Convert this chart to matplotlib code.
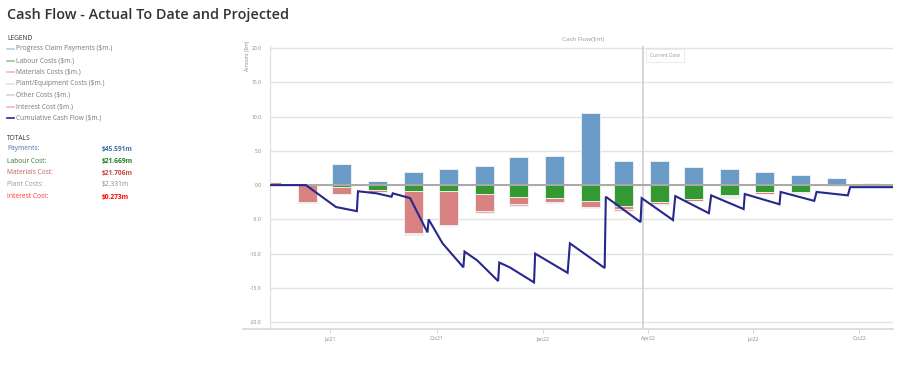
import numpy as np
import pandas as pd
import matplotlib
matplotlib.use("Agg")
import matplotlib.pyplot as plt
import matplotlib.dates as mdates
from matplotlib.lines import Line2D

plt.rcParams['font.family'] = ['Open Sans', 'DejaVu Sans']

# Monthly cash flow bars ($m)
bar_dates = ['2021-05-11', '2021-06-11', '2021-07-11', '2021-08-11', '2021-09-11', '2021-10-11',
             '2021-11-11', '2021-12-11', '2022-01-11', '2022-02-11', '2022-03-11', '2022-04-11',
             '2022-05-11', '2022-06-11', '2022-07-11', '2022-08-11', '2022-09-11', '2022-10-11']
payments = [0, 0, 3.1, 0.65, 1.95, 2.3, 2.85, 4.15, 4.2, 10.5, 3.45, 3.45, 2.7, 2.3, 1.85, 1.45, 1.1, 0]
labour = [0, -0.05, -0.25, -0.65, -0.8, -0.8, -1.3, -1.7, -1.95, -2.3, -3.0, -2.45, -2.05, -1.45, -0.95, -0.95, 0, 0]
materials = [0.45, -2.45, -1.0, -0.3, -6.2, -4.95, -2.5, -1.1, -0.45, -0.85, -0.55, -0.3, -0.2, -0.2, -0.3, -0.25, -0.15, 0.25]
plant = [0, -0.1, -0.1, -0.1, -0.2, -0.2, -0.2, -0.2, -0.25, -0.2, -0.2, -0.1, -0.1, -0.15, -0.1, -0.1, -0.05, 0.1]
interest = [0, 0, 0, 0, -0.02, -0.02, -0.03, -0.03, -0.03, -0.03, -0.03, -0.02, -0.02, -0.02, -0.01, -0.01, 0, 0]

# Cumulative cash flow line ($m)
cum_dates = ['2021-05-11', '2021-06-10', '2021-07-06', '2021-07-24', '2021-07-25', '2021-08-10',
             '2021-08-23', '2021-08-24', '2021-09-08', '2021-09-23', '2021-09-24', '2021-10-06',
             '2021-10-24', '2021-10-25', '2021-11-05', '2021-11-23', '2021-11-24', '2021-12-03',
             '2021-12-24', '2021-12-25', '2022-01-22', '2022-01-24', '2022-02-23', '2022-02-24',
             '2022-03-26', '2022-03-27', '2022-04-23', '2022-04-25', '2022-05-24', '2022-05-26',
             '2022-06-23', '2022-06-24', '2022-07-24', '2022-07-25', '2022-08-23', '2022-08-25',
             '2022-09-21', '2022-09-23', '2022-10-30']
cum_vals = [0, 0, -3.2, -3.8, -0.9, -1.2, -1.7, -1.2, -1.9, -6.9, -5.0, -8.5, -12.0, -9.7, -11.0,
            -14.0, -11.3, -12.0, -14.2, -10.0, -12.8, -8.5, -12.1, -1.7, -5.4, -1.9, -5.1, -1.6,
            -4.1, -1.5, -3.5, -1.3, -2.8, -1.0, -2.3, -1.0, -1.5, -0.3, -0.3]

current_date = '2022-03-28'

legend_items = ['Progress Claim Payments ($m.)', 'Labour Costs ($m.)', 'Materials Costs ($m.)',
                'Plant/Equipment Costs ($m.)', 'Other Costs ($m.)', 'Interest Cost ($m.)',
                'Cumulative Cash Flow ($m.)']
legend_colors = ['#b5cde3', '#8ccc8c', '#f2b8b8', '#e4e4e4', '#d6d6d6', '#f7b4b4', '#27288e']

total_labels = ['Payments:', 'Labour Cost:', 'Materials Cost:', 'Plant Costs:', 'Interest Cost:']
total_values = ['$45.591m', '$21.669m', '$21.706m', '$2.331m', '$0.273m']
total_label_colors = ['#4f74a8', '#2f7d1e', '#c06060', '#9a9a9a', '#ff3333']
total_value_colors = ['#3d6aa8', '#1a7a1a', '#c84040', '#8a8a8a', '#ff0000']
total_bold = [True, True, True, False, True]

fig = plt.figure(figsize=(9.22, 3.69), dpi=100)
ax = fig.add_axes([270 / 922, 1 - 329 / 369, (893 - 270) / 922, (329 - 46) / 369])

x = pd.to_datetime(bar_dates)
width = 16.4
series = [(payments, '#6b9bc7'), (labour, '#339933'), (materials, '#d98282'),
          (plant, '#e8adad'), (interest, '#f4a0a0')]
pos_base = np.zeros(len(x))
neg_base = np.zeros(len(x))
for vals, col in series:
    v = np.array(vals, dtype=float)
    bottom = np.where(v >= 0, pos_base, neg_base)
    ax.bar(x, v, width=width, bottom=bottom, color=col, edgecolor='#f3f3f3',
           linewidth=0.6, zorder=2)
    pos_base = pos_base + np.where(v >= 0, v, 0)
    neg_base = neg_base + np.where(v < 0, v, 0)

ax.plot(pd.to_datetime(cum_dates), cum_vals, color='#27288e', lw=1.5, zorder=4,
        solid_joinstyle='miter')

# grid / zero line
for yv in range(-20, 25, 5):
    ax.axhline(yv, color='#e3e3e3', lw=1, zorder=0)
ax.axhline(0, color='#a9a9a9', lw=1.4, zorder=3)

cd = pd.Timestamp(current_date)
ax.axvline(cd, color='#cfcfcf', lw=1.2, zorder=1)
ax.text(cd + pd.Timedelta(days=6), 18.9, 'Current Date', fontsize=3.6, color='#999999',
        va='center', ha='left', zorder=5,
        bbox=dict(boxstyle='square,pad=0.8', fc='white', ec='#e6e6e6', lw=0.6))

ax.set_xlim(pd.Timestamp('2021-05-10'), pd.Timestamp('2022-10-30'))
ax.set_ylim(-21, 20.3)
ax.set_yticks(range(-20, 25, 5))
ax.set_yticklabels([f'{v:.1f}' for v in range(-20, 25, 5)])
ax.xaxis.set_major_locator(mdates.MonthLocator(bymonth=[1, 4, 7, 10]))
ax.xaxis.set_major_formatter(mdates.DateFormatter('%b%y'))
ax.tick_params(axis='y', length=0, labelsize=3.6, labelcolor='#888888', pad=6)
ax.tick_params(axis='x', length=3, width=0.6, color='#cccccc', labelsize=3.6,
               labelcolor='#888888', pad=2)
for s in ['top', 'right', 'bottom']:
    ax.spines[s].set_visible(False)
ax.spines['left'].set_color('#dddddd')
ax.spines['left'].set_linewidth(0.8)
ax.set_ylabel('Amount ($m)', fontsize=3.6, color='#888888')
ax.yaxis.set_label_coords(-0.032, 0.965)

# x axis line extending left beyond the plot
fig.add_artist(Line2D([243 / 922, 893 / 922], [1 - 329 / 369] * 2, color='#d8d8d8', lw=1.2))

fig.text(583 / 922, 1 - 40 / 369, 'Cash Flow($m)', fontsize=4.5, color='#999999',
         ha='center', va='center')

# page title
fig.text(7 / 922, 1 - 15 / 369, 'Cash Flow - Actual To Date and Projected', fontsize=10.4,
         fontweight='semibold', color='#333333', ha='left', va='center')

# legend panel
fig.text(7 / 922, 1 - 38 / 369, 'LEGEND', fontsize=4.8, color='#333333', ha='left', va='center')
for i, (lab, col) in enumerate(zip(legend_items, legend_colors)):
    yy = 1 - (49 + i * 11.5) / 369
    fig.add_artist(Line2D([7 / 922, 13.5 / 922], [yy, yy], color=col, lw=1.2))
    fig.text(16 / 922, yy, lab, fontsize=4.8, color='#777777', ha='left', va='center')

fig.text(7 / 922, 1 - 138 / 369, 'TOTALS', fontsize=4.8, color='#333333', ha='left', va='center')
for i in range(len(total_labels)):
    yy = 1 - (149 + i * 12) / 369
    fig.text(7 / 922, yy, total_labels[i], fontsize=4.8, color=total_label_colors[i],
             ha='left', va='center')
    fig.text(102 / 922, yy, total_values[i], fontsize=4.8, color=total_value_colors[i],
             ha='left', va='center', fontweight='bold' if total_bold[i] else 'normal')

fig.savefig('out.png', dpi=100)
